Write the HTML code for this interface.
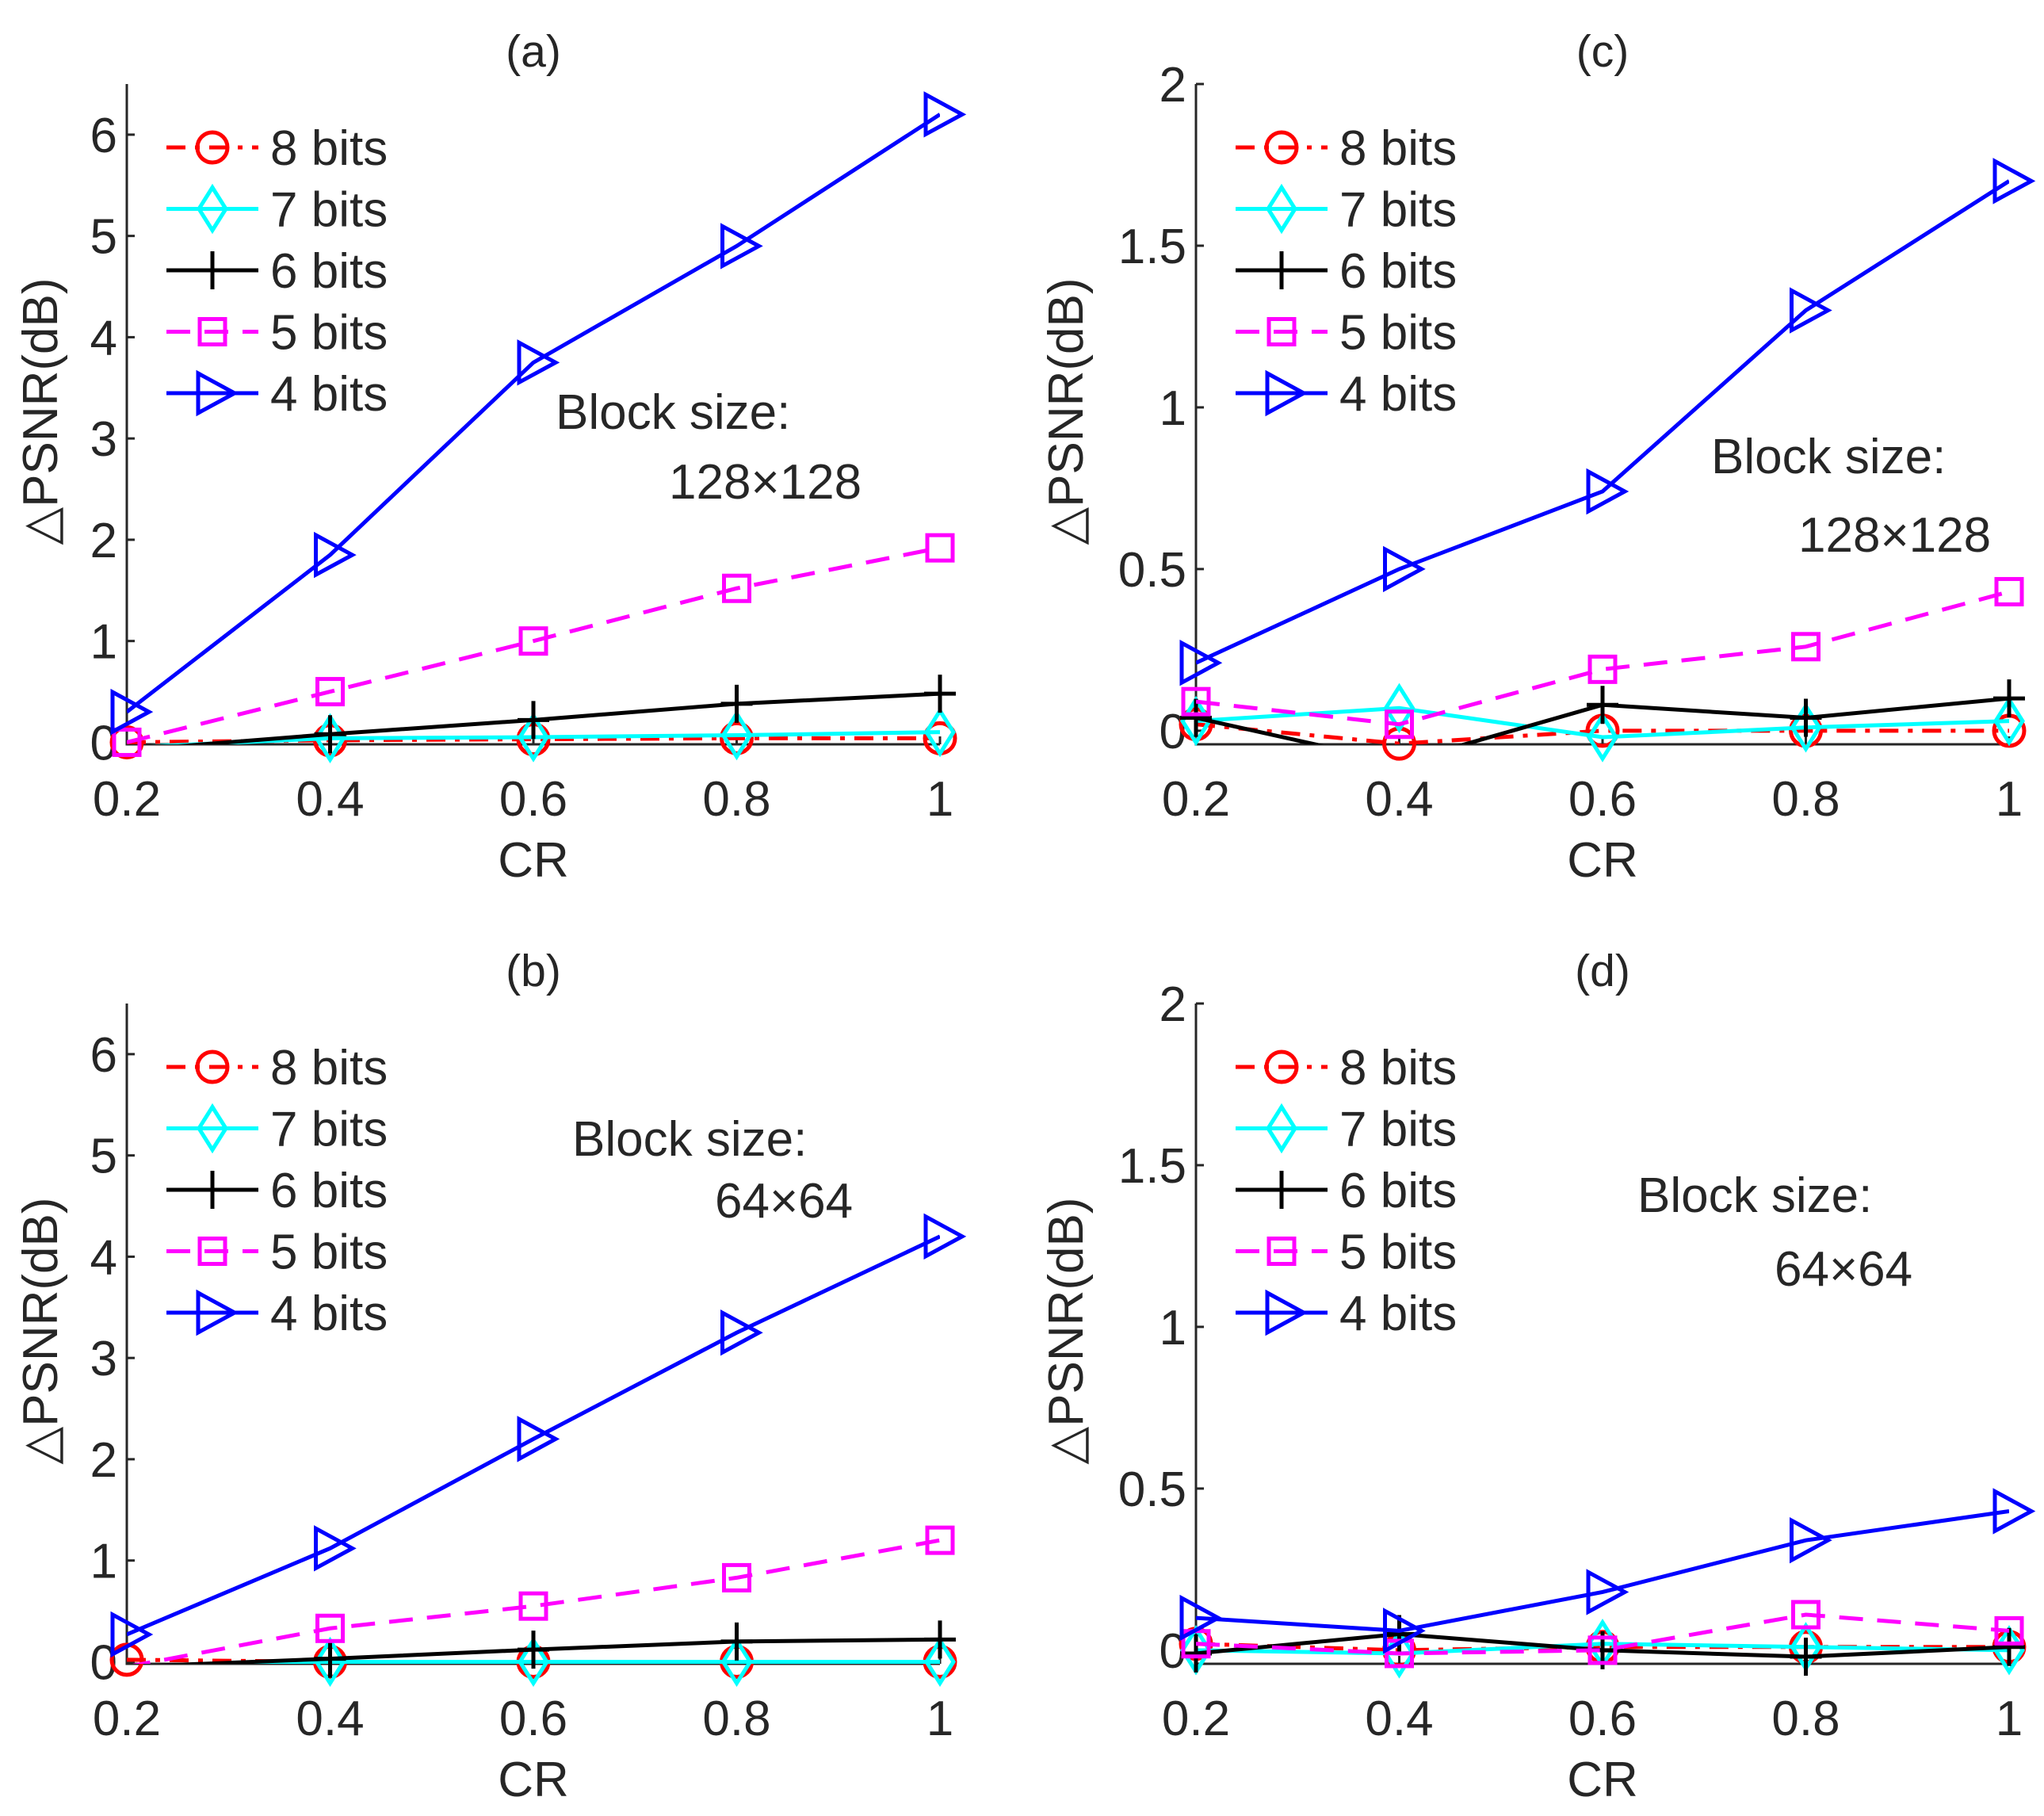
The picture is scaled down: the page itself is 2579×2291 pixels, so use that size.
<!DOCTYPE html>
<html><head><meta charset="utf-8"><style>
html,body{margin:0;padding:0;background:#fff}
svg{display:block}
text{font-family:"Liberation Sans",Arial,sans-serif;fill:#262626}
</style></head><body>
<svg id="fig" width="2579" height="2291" viewBox="0 0 2579 2291" xmlns="http://www.w3.org/2000/svg"></svg>
<script>
const crValues = [0.2, 0.4, 0.6, 0.8, 1.0];
const xTickLabels = ["0.2","0.4","0.6","0.8","1"];
const seriesNames = ["8 bits","7 bits","6 bits","5 bits","4 bits"];
// panel (a)
const a8 = [0.0, 0.02, 0.03, 0.04, 0.04];
const a7 = [-0.05, 0.04, 0.05, 0.07, 0.1];
const a6 = [-0.08, 0.08, 0.22, 0.38, 0.48];
const a5 = [0.0, 0.5, 1.0, 1.52, 1.92];
const a4 = [0.3, 1.85, 3.75, 4.9, 6.2];
// panel (b)
const b8 = [0.02, 0.0, 0.0, 0.0, 0.0];
const b7 = [-0.05, 0.0, 0.0, 0.0, 0.0];
const b6 = [-0.05, 0.03, 0.12, 0.2, 0.22];
const b5 = [-0.05, 0.33, 0.55, 0.83, 1.2];
const b4 = [0.27, 1.12, 2.2, 3.25, 4.2];
// panel (c)
const c8 = [0.02, -0.04, 0.0, 0.0, 0.0];
const c7 = [0.03, 0.07, -0.02, 0.01, 0.03];
const c6 = [0.04, -0.1, 0.08, 0.04, 0.1];
const c5 = [0.09, 0.02, 0.19, 0.26, 0.43];
const c4 = [0.21, 0.5, 0.74, 1.3, 1.7];
// panel (d)
const d8 = [0.02, 0.0, 0.01, 0.01, 0.01];
const d7 = [0.0, -0.01, 0.02, 0.01, 0.0];
const d6 = [-0.01, 0.05, 0.0, -0.02, 0.01];
const d5 = [0.02, -0.01, 0.0, 0.11, 0.06];
const d4 = [0.1, 0.06, 0.18, 0.34, 0.43];
const yTicksBig = [0,1,2,3,4,5,6];
const yTickLabelsBig = ["0","1","2","3","4","5","6"];
const yTicksSmall = [0,0.5,1,1.5,2];
const yTickLabelsSmall = ["0","0.5","1","1.5","2"];

const NS="http://www.w3.org/2000/svg";
const svg=document.getElementById('fig');
function mk(tag,attrs,parent){const e=document.createElementNS(NS,tag);for(const k in attrs)e.setAttribute(k,attrs[k]);(parent||svg).appendChild(e);return e;}

const styles=[
 {color:"#ff0000",dash:"24 12 6 12",marker:"circle"},
 {color:"#00ffff",dash:"",marker:"diamond"},
 {color:"#000000",dash:"",marker:"plus"},
 {color:"#ff00ff",dash:"30 18",marker:"square"},
 {color:"#0000ff",dash:"",marker:"triangle"}
];
function drawMarker(g,type,x,y,color){
  const sw=5;let m;
  if(type==="circle") m=mk('circle',{cx:x,cy:y,r:19,fill:"none",stroke:color,"stroke-width":sw},g);
  else if(type==="diamond") m=mk('polygon',{points:`${x},${y-27} ${x+17},${y} ${x},${y+27} ${x-17},${y}`,fill:"none",stroke:color,"stroke-width":sw},g);
  else if(type==="plus") m=mk('path',{d:`M${x-20},${y}H${x+20}M${x},${y-24}V${y+24}`,fill:"none",stroke:color,"stroke-width":sw},g);
  else if(type==="square") m=mk('rect',{x:x-16,y:y-16,width:32,height:32,fill:"none",stroke:color,"stroke-width":sw},g);
  else m=mk('polygon',{points:`${x-18},${y-25} ${x+28},${y} ${x-18},${y+25}`,fill:"none",stroke:color,"stroke-width":sw},g);
  
  
}

function panel(id,ox,oy,ymin,ymax,yticks,ylabels,series,title,block,blockPos,ylx){
  const L=ox,R=ox+1026,T=oy+106,B=oy+939;
  const xs=v=>L+(v-0.2)/0.8*(R-L);
  const ys=v=>B-(v-ymin)/(ymax-ymin)*(B-T);
  const g=mk('g',{});
  
  
  const cp=mk('clipPath',{id:'clip-'+id},g);
  mk('rect',{x:L,y:T,width:R-L,height:B-T},cp);
  const ax=mk('path',{d:`M${L},${T}V${B}H${R}`,fill:"none",stroke:"#262626","stroke-width":3},g);
  
  
  crValues.forEach((v,i)=>{
    mk('line',{x1:xs(v),x2:xs(v),y1:B,y2:B-10,stroke:"#262626","stroke-width":3},g);
    const t=mk('text',{x:xs(v),y:B+90,"font-size":62,"text-anchor":"middle"},g);
    t.textContent=xTickLabels[i];
    
    
  });
  yticks.forEach((v,i)=>{
    mk('line',{x1:L,x2:L+10,y1:ys(v),y2:ys(v),stroke:"#262626","stroke-width":3},g);
    const t=mk('text',{x:L-12,y:ys(v)+22,"font-size":62,"text-anchor":"end"},g);
    t.textContent=ylabels[i];
    
    
  });
  const tt=mk('text',{x:(L+R)/2,y:oy+84,"font-size":57,"text-anchor":"middle"},g);
  tt.textContent=title;
  
  
  const xl=mk('text',{x:(L+R)/2,y:oy+1106,"font-size":62,"text-anchor":"middle"},g);
  xl.textContent="CR";
  
  
  const yl=mk('text',{x:0,y:0,"font-size":62,"text-anchor":"middle",transform:`translate(${ox+ylx},${oy+519}) rotate(-90)`},g);
  yl.textContent="\u25B3PSNR(dB)";
  
  
  series.forEach((vals,si)=>{
    const st=styles[si];
    const sg=mk('g',{},g);
    
    
    const pts=vals.map((v,i)=>xs(crValues[i])+","+ys(v)).join(" ");
    const attrs={points:pts,fill:"none",stroke:st.color,"stroke-width":5,"clip-path":`url(#clip-${id})`};
    if(st.dash)attrs["stroke-dasharray"]=st.dash;
    mk('polyline',attrs,sg);
    vals.forEach((v,i)=>{ if(v>=ymin && v<=ymax) drawMarker(sg,st.marker,xs(crValues[i]),ys(v),st.color); });
  });
  const lg=mk('g',{},g);
  
  
  const lx=ox+50;
  seriesNames.forEach((n,si)=>{
    const st=styles[si];
    const y=oy+186+si*77.5;
    const attrs={x1:lx,x2:lx+116,y1:y,y2:y,stroke:st.color,"stroke-width":5};
    if(st.dash)attrs["stroke-dasharray"]=si===0?"24 12 6 12":"30 18";
    mk('line',attrs,lg);
    drawMarker(lg,st.marker,lx+58,y,st.color);
    const t=mk('text',{x:lx+131,y:y+22,"font-size":62,fill:"#000"},lg);
    t.textContent=n;
    
    
  });
  const b1=mk('text',{x:blockPos[0],y:blockPos[1]+22,"font-size":62,fill:"#000"},g);
  b1.textContent="Block size:";
  
  
  const b2=mk('text',{x:blockPos[2],y:blockPos[3]+22,"font-size":62,fill:"#000"},g);
  b2.textContent=block;
  
  
}
panel('a',160,0,-0.02,6.5,yTicksBig,yTickLabelsBig,[a8,a7,a6,a5,a4],"(a)","128×128",[701,519,844,607],-88);
panel('b',160,1160,-0.02,6.5,yTicksBig,yTickLabelsBig,[b8,b7,b6,b5,b4],"(b)","64×64",[722,1436,902,1514],-88);
panel('c',1509,0,-0.042,2,yTicksSmall,yTickLabelsSmall,[c8,c7,c6,c5,c4],"(c)","128×128",[2159,575,2269,674],-143);
panel('d',1509,1160,-0.042,2,yTicksSmall,yTickLabelsSmall,[d8,d7,d6,d5,d4],"(d)","64×64",[2066,1507,2239,1600],-143);
</script>
</body></html>
